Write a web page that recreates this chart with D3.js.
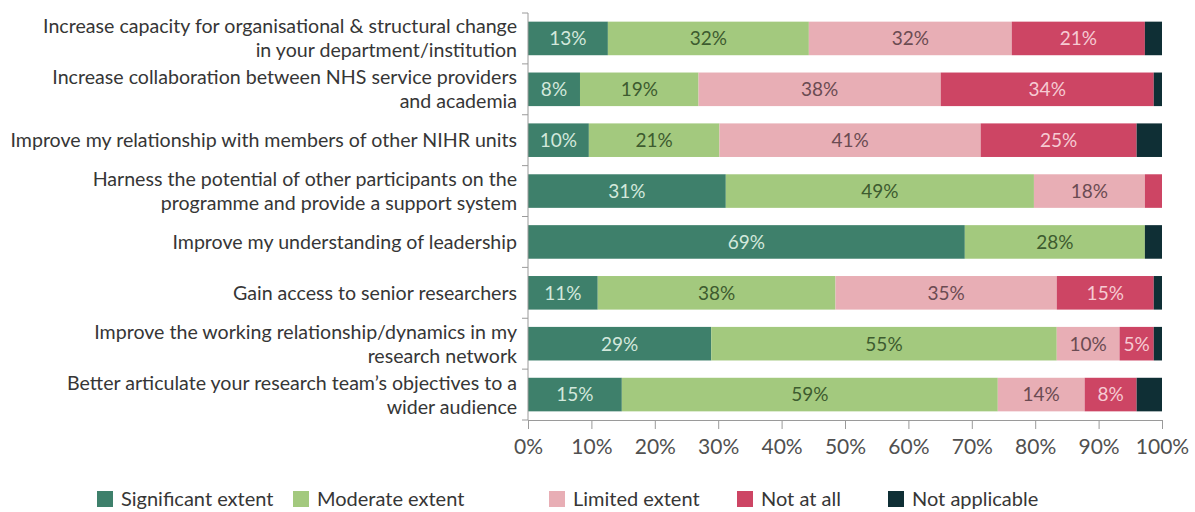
<!DOCTYPE html>
<html>
<head>
<meta charset="utf-8">
<script src="https://cdn.jsdelivr.net/npm/d3@7"></script>
<style>
  body { margin: 0; background: #fff; }
  text { font-family: Lato, "Open Sans", sans-serif; }
</style>
</head>
<body>
<div id="chart"></div>
<script>
// categories (top to bottom), each label split into lines
const categories = [
  ["Increase capacity for organisational & structural change", "in your department/institution"],
  ["Increase collaboration between NHS service providers", "and academia"],
  ["Improve my relationship with members of other NIHR units"],
  ["Harness the potential of other participants on the", "programme and provide a support system"],
  ["Improve my understanding of leadership"],
  ["Gain access to senior researchers"],
  ["Improve the working relationship/dynamics in my", "research network"],
  ["Better articulate your research team\u2019s objectives to a", "wider audience"]
];

const seriesNames = ["Significant extent", "Moderate extent", "Limited extent", "Not at all", "Not applicable"];

// % of respondents
const significant = [12.6, 8.2, 9.6, 31.2, 68.9, 11.0, 28.9, 14.8];
const moderate    = [31.7, 18.7, 20.6, 48.6, 28.4, 37.5, 54.5, 59.3];
const limited     = [32.0, 38.2, 41.2, 17.5, 0, 34.9, 9.9, 13.7];
const notAtAll    = [21.0, 33.6, 24.6, 2.7, 0, 15.3, 5.4, 8.2];
const notApplic   = [2.7, 1.3, 4.0, 0, 2.7, 1.3, 1.3, 4.0];

// text shown inside the segments
const significantLbl = ["13%", "8%", "10%", "31%", "69%", "11%", "29%", "15%"];
const moderateLbl    = ["32%", "19%", "21%", "49%", "28%", "38%", "55%", "59%"];
const limitedLbl     = ["32%", "38%", "41%", "18%", "", "35%", "10%", "14%"];
const notAtAllLbl    = ["21%", "34%", "25%", "", "", "15%", "5%", "8%"];
const notApplicLbl   = ["", "", "", "", "", "", "", ""];

const xTicks = [0, 10, 20, 30, 40, 50, 60, 70, 80, 90, 100];

const colors = ["#3e806b", "#a3c97e", "#e8aeb5", "#cd4564", "#0f2f35"];
const labelColors = ["#d3e8dc", "#3d5b2f", "#6b4b52", "#f6cbd3", "#fff"];

const width = 1195, height = 512;
const margin = { top: 13, left: 528, right: 33, bottom: 92 };
const chartWidth = width - margin.left - margin.right;
const chartHeight = height - margin.top - margin.bottom;

const allValues = [significant, moderate, limited, notAtAll, notApplic];
const allLabels = [significantLbl, moderateLbl, limitedLbl, notAtAllLbl, notApplicLbl];

const rows = categories.map((c, i) => {
  const r = { idx: i };
  seriesNames.forEach((s, k) => { r[s] = allValues[k][i]; });
  return r;
});

const stack = d3.stack().keys(seriesNames)(rows);

const svg = d3.select("#chart").append("svg")
  .attr("width", width)
  .attr("height", height);

const chart = svg.append("g")
  .attr("transform", `translate(${margin.left},${margin.top})`);

const pad = 0.34;
const y = d3.scaleBand()
  .domain(d3.range(categories.length))
  .range([0, chartHeight])
  .paddingInner(pad)
  .paddingOuter(pad / 2);

const x = d3.scaleLinear()
  .domain([0, 100])
  .range([0, chartWidth]);

// bars
const layers = chart.selectAll(".layer")
  .data(stack)
  .enter()
  .append("g")
  .classed("layer", true)
  .style("fill", (d, k) => colors[k]);

layers.selectAll("rect")
  .data(d => d)
  .enter()
  .append("rect")
  .attr("x", d => x(d[0]))
  .attr("y", (d, i) => y(i))
  .attr("width", d => Math.max(0, x(d[1]) - x(d[0])))
  .attr("height", y.bandwidth());

// segment labels
stack.forEach((layer, k) => {
  chart.selectAll(".lbl" + k)
    .data(layer)
    .enter()
    .append("text")
    .attr("x", d => x((d[0] + d[1]) / 2))
    .attr("y", (d, i) => y(i) + y.bandwidth() / 2)
    .attr("dy", "0.36em")
    .attr("text-anchor", "middle")
    .style("font-size", "19px")
    .style("fill", labelColors[k])
    .text((d, i) => allLabels[k][i]);
});

// x axis
const xAxis = d3.axisBottom(x)
  .tickValues(xTicks)
  .tickFormat(d => d + "%")
  .tickSize(9)
  .tickSizeOuter(0)
  .tickPadding(10);

const xg = chart.append("g")
  .classed("x axis", true)
  .attr("transform", `translate(0,${chartHeight})`)
  .call(xAxis);
xg.select(".domain").attr("stroke", "#9a9a9a");
xg.selectAll(".tick line").attr("stroke", "#9a9a9a");
xg.selectAll(".tick text")
  .style("font-size", "21px")
  .style("fill", "#505050")
  .style("font-family", "Lato, sans-serif");

// y axis: line with ticks at the band boundaries
const yg = chart.append("g").classed("y axis", true);
yg.append("line")
  .attr("x1", 0).attr("x2", 0)
  .attr("y1", 0).attr("y2", chartHeight)
  .attr("stroke", "#9a9a9a");
const bounds = d3.range(categories.length + 1).map(i => i * y.step());
yg.selectAll(".ytick")
  .data(bounds)
  .enter()
  .append("line")
  .attr("x1", -6).attr("x2", 0)
  .attr("y1", d => d).attr("y2", d => d)
  .attr("stroke", "#9a9a9a");

// category labels
const lineH = 24;
const catText = yg.selectAll(".cat")
  .data(categories)
  .enter()
  .append("text")
  .classed("cat", true)
  .attr("x", -11)
  .attr("y", (d, i) => y(i) + y.bandwidth() / 2 - (d.length - 1) * lineH / 2)
  .attr("text-anchor", "end")
  .style("font-size", "19.6px")
  .style("fill", "#363636");
catText.selectAll("tspan")
  .data((d, i) => d.map(t => ({ t, i })))
  .enter()
  .append("tspan")
  .attr("x", -11)
  .attr("dy", (d, j) => j === 0 ? "0.36em" : lineH)
  .text(d => d.t);

// legend
const legendX = [97, 293, 549, 737, 888];
const legend = svg.append("g")
  .attr("transform", "translate(0,491)");
const items = legend.selectAll(".item")
  .data(seriesNames)
  .enter()
  .append("g")
  .attr("transform", (d, k) => `translate(${legendX[k]},0)`);
items.append("rect")
  .attr("width", 16)
  .attr("height", 16)
  .style("fill", (d, k) => colors[k]);
items.append("text")
  .attr("x", 24)
  .attr("y", 8)
  .attr("dy", "0.36em")
  .style("font-size", "20px")
  .style("fill", "#363636")
  .text(d => d);
</script>
</body>
</html>
